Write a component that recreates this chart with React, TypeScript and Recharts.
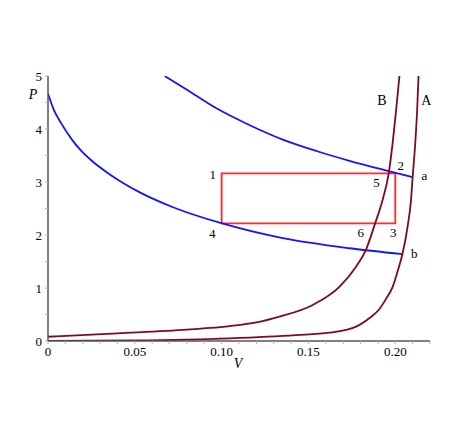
import { LineChart, Line, XAxis, YAxis, ReferenceArea, ReferenceDot } from 'recharts';

// isotherm through 2 and a
const isothermA = [
  { v: 0.0672, p: 5.0 },
  { v: 0.08, p: 4.74 },
  { v: 0.097, p: 4.39 },
  { v: 0.115, p: 4.09 },
  { v: 0.1352, p: 3.8 },
  { v: 0.155, p: 3.58 },
  { v: 0.1736, p: 3.4 },
  { v: 0.1956, p: 3.21 },
  { v: 0.21, p: 3.09 },
];

// isotherm through 4 and b
const isothermB = [
  { v: 0, p: 4.67 },
  { v: 0.0035, p: 4.35 },
  { v: 0.0072, p: 4.13 },
  { v: 0.0138, p: 3.8 },
  { v: 0.0188, p: 3.6 },
  { v: 0.0252, p: 3.4 },
  { v: 0.035, p: 3.156 },
  { v: 0.0437, p: 2.972 },
  { v: 0.0529, p: 2.804 },
  { v: 0.072, p: 2.523 },
  { v: 0.0998, p: 2.222 },
  { v: 0.1352, p: 1.94 },
  { v: 0.1736, p: 1.75 },
  { v: 0.2042, p: 1.64 },
];

const curveB = [
  { v: 0, p: 0.08 },
  { v: 0.04, p: 0.145 },
  { v: 0.08, p: 0.215 },
  { v: 0.1046, p: 0.28 },
  { v: 0.12, p: 0.35 },
  { v: 0.1333, p: 0.46 },
  { v: 0.1525, p: 0.68 },
  { v: 0.1678, p: 1.02 },
  { v: 0.1774, p: 1.4 },
  { v: 0.1831, p: 1.72 },
  { v: 0.1883, p: 2.21 },
  { v: 0.1927, p: 2.66 },
  { v: 0.1962, p: 3.16 },
  { v: 0.1985, p: 3.74 },
  { v: 0.2004, p: 4.33 },
  { v: 0.2024, p: 5.0 },
];

const curveA = [
  { v: 0, p: 0 },
  { v: 0.05, p: 0.01 },
  { v: 0.1046, p: 0.05 },
  { v: 0.1429, p: 0.11 },
  { v: 0.1621, p: 0.157 },
  { v: 0.1717, p: 0.21 },
  { v: 0.1774, p: 0.27 },
  { v: 0.185, p: 0.43 },
  { v: 0.1908, p: 0.6 },
  { v: 0.1946, p: 0.79 },
  { v: 0.1985, p: 1.02 },
  { v: 0.2013, p: 1.31 },
  { v: 0.2042, p: 1.65 },
  { v: 0.2071, p: 2.16 },
  { v: 0.209, p: 2.64 },
  { v: 0.21, p: 3.09 },
  { v: 0.2115, p: 3.73 },
  { v: 0.2126, p: 4.36 },
  { v: 0.2134, p: 5.0 },
];

// cycle 1-2-3-4
const cycleV = [0.1, 0.2];
const cycleP = [2.22, 3.164];

const pointLabels = [
  { text: '1', v: 0.0949, p: 3.15 },
  { text: '2', v: 0.2032, p: 3.32 },
  { text: '3', v: 0.1988, p: 2.05 },
  { text: '4', v: 0.0946, p: 2.03 },
  { text: '5', v: 0.1892, p: 3.0 },
  { text: '6', v: 0.1801, p: 2.05 },
  { text: 'a', v: 0.2168, p: 3.13 },
  { text: 'b', v: 0.2109, p: 1.66 },
  { text: 'B', v: 0.1923, p: 4.53 },
  { text: 'A', v: 0.2179, p: 4.53 },
];

const xTicks = [
  0, 0.01, 0.02, 0.03, 0.04, 0.05, 0.06, 0.07, 0.08, 0.09, 0.1, 0.11,
  0.12, 0.13, 0.14, 0.15, 0.16, 0.17, 0.18, 0.19, 0.2, 0.21, 0.22,
];
const xTickLabels: Record<string, string> = {
  '0': '0',
  '0.05': '0.05',
  '0.1': '0.10',
  '0.15': '0.15',
  '0.2': '0.20',
};
const yTicks = [0, 0.5, 1, 1.5, 2, 2.5, 3, 3.5, 4, 4.5, 5];

const FONT = '"Liberation Serif", "DejaVu Serif", serif';
const BLUE = '#1414ff';
const MAROON = '#7d0a20';

function XTick({ x, y, payload }: any) {
  const label = xTickLabels[String(payload.value)];
  return (
    <g>
      <line x1={x} y1={y} x2={x} y2={y + 3} stroke="#b0b0b0" />
      {label && (
        <text x={x} y={y + 15} textAnchor="middle" fontSize={13} fontFamily={FONT} fill="#000">
          {label}
        </text>
      )}
    </g>
  );
}

function YTick({ x, y, payload }: any) {
  const isMajor = Number.isInteger(payload.value);
  return (
    <g>
      <line x1={x} y1={y} x2={x - 3} y2={y} stroke="#b0b0b0" />
      {isMajor && (
        <text x={x - 6} y={y + 4.5} textAnchor="end" fontSize={13} fontFamily={FONT} fill="#000">
          {payload.value}
        </text>
      )}
    </g>
  );
}

const pointLabel = (text: string) => ({ viewBox }: any) => (
  <text
    x={viewBox.x + viewBox.width / 2}
    y={viewBox.y + viewBox.height / 2 + 4.5}
    textAnchor="middle"
    fontSize={text === 'A' || text === 'B' ? 14 : 13}
    fontFamily={FONT}
    fill="#000"
  >
    {text}
  </text>
);

export default function App() {
  return (
    <LineChart width={450} height={420} margin={{ top: 68, right: 28, left: 0, bottom: 57 }}>
      <XAxis
        type="number"
        dataKey="v"
        domain={[0, 0.22]}
        ticks={xTicks}
        interval={0}
        allowDataOverflow
        tick={<XTick />}
        tickLine={false}
        tickSize={0}
        tickMargin={0}
        height={30}
        axisLine={{ stroke: '#555', strokeWidth: 1.5 }}
        label={{
          content: ({ viewBox }: any) => (
            <text x={viewBox.x + 190} y={viewBox.y + 27} textAnchor="middle" fontSize={14} fontStyle="italic" fontFamily={FONT} fill="#000">
              V
            </text>
          ),
        }}
      />
      <YAxis
        type="number"
        dataKey="p"
        domain={[0, 5]}
        ticks={yTicks}
        interval={0}
        allowDataOverflow
        tick={<YTick />}
        tickLine={false}
        tickSize={0}
        tickMargin={0}
        width={40}
        axisLine={{ stroke: '#555', strokeWidth: 1.5 }}
        label={{
          content: ({ viewBox }: any) => (
            <text x={viewBox.x + 25} y={viewBox.y + 23} textAnchor="middle" fontSize={14} fontStyle="italic" fontFamily={FONT} fill="#000">
              P
            </text>
          ),
        }}
      />
      <ReferenceArea
        x1={cycleV[0]}
        x2={cycleV[1]}
        y1={cycleP[0]}
        y2={cycleP[1]}
        fill="none"
        fillOpacity={0}
        stroke="#ff2a2a"
        strokeOpacity={1}
        strokeWidth={1.8}
        ifOverflow="visible"
      />
      <Line data={isothermA} dataKey="p" type="monotone" stroke={BLUE} strokeWidth={1.8} dot={false} isAnimationActive={false} />
      <Line data={isothermB} dataKey="p" type="monotone" stroke={BLUE} strokeWidth={1.8} dot={false} isAnimationActive={false} />
      <Line data={curveB} dataKey="p" type="monotone" stroke={MAROON} strokeWidth={1.8} dot={false} isAnimationActive={false} />
      <Line data={curveA} dataKey="p" type="monotone" stroke={MAROON} strokeWidth={1.8} dot={false} isAnimationActive={false} />
      {pointLabels.map((d) => (
        <ReferenceDot
          key={d.text}
          x={d.v}
          y={d.p}
          r={0}
          stroke="none"
          fill="none"
          ifOverflow="visible"
          label={{ content: pointLabel(d.text) }}
        />
      ))}
    </LineChart>
  );
}
